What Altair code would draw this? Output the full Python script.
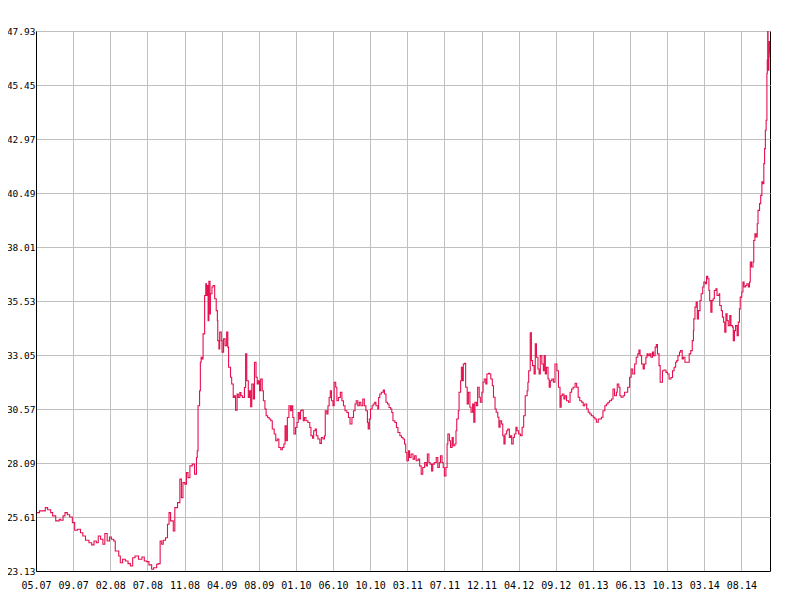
import altair as alt
import pandas as pd

# trading-day index (gridline every 96 trading days) and price
days = [2, 9, 17, 24, 30, 38, 43, 51, 60, 64, 70, 75, 81, 87, 94, 100, 107, 115, 121, 128,
        137, 144, 150, 156, 161, 167, 173, 178, 184, 190, 195, 201, 205, 214, 218, 224, 231, 238, 244, 250,
        256, 265, 274, 280, 286, 292, 299, 304, 312, 316, 321, 325, 329, 335, 340, 344, 348, 355, 359, 366,
        372, 376, 380, 385, 389, 393, 398, 404, 410,
        415, 417, 419, 423, 425, 427, 429, 432, 436, 439, 441, 443, 445, 447, 450, 451, 455, 458, 462, 466,
        469, 470, 473, 475, 479, 481, 485, 489, 493, 496, 498, 503, 506, 510, 513, 516, 520, 523, 527, 530,
        534, 539, 542, 545, 549, 552, 555, 558, 562, 565, 569, 572, 575, 578, 581, 585, 588, 592, 595, 599,
        603, 607, 611, 616, 620, 624, 628, 633, 637, 641, 644, 647, 650, 654, 658, 661, 664,
        667, 671, 675, 678, 681, 684, 687, 691, 694, 698, 703, 708, 711, 715, 718, 722, 725, 729, 734, 738,
        742, 746, 748, 752, 755, 758, 761, 764, 768, 771, 775, 778, 782, 787, 791, 795, 799, 804, 808, 812,
        817, 821, 825, 828, 832, 836, 840, 845, 849, 853, 857, 859, 862, 865, 869, 872, 876, 879, 884, 886,
        889, 893, 898, 901, 905, 909, 913, 917, 920, 923, 928, 932, 936, 941, 945, 949, 953, 956, 959, 963,
        966, 970, 975,
        979, 983, 988, 992, 996, 1000, 1005, 1009, 1012, 1016, 1019, 1023, 1026, 1030, 1035, 1039, 1043, 1046,
        1050, 1053, 1056, 1060, 1063, 1065, 1069, 1072, 1076, 1079, 1083, 1086, 1088, 1092, 1094, 1098, 1100,
        1103, 1105, 1108, 1111, 1115, 1118, 1122, 1125, 1129, 1132, 1135, 1139, 1142, 1146, 1149, 1153, 1156,
        1159, 1163, 1166, 1170, 1173, 1176, 1180, 1183, 1187, 1190, 1194, 1197, 1200, 1204, 1207, 1210, 1213,
        1217, 1220, 1224, 1227, 1230, 1234, 1237, 1241, 1244, 1248, 1253, 1257,
        1261, 1265, 1270, 1272, 1274, 1278, 1281, 1284, 1288, 1291, 1294, 1298, 1301, 1304, 1308, 1312, 1314,
        1317, 1320, 1324, 1327, 1330, 1334, 1338, 1342, 1347, 1351, 1355, 1358, 1361, 1365, 1368, 1372, 1377,
        1381, 1385, 1389, 1394, 1398, 1402, 1406, 1411, 1415, 1419, 1424, 1428, 1432, 1436, 1441, 1445, 1449,
        1454, 1458, 1462, 1466, 1471, 1475, 1479, 1483, 1488, 1492, 1496, 1501, 1503, 1507, 1510, 1513, 1518,
        1522, 1526, 1530, 1535, 1539, 1543, 1548, 1552, 1556, 1559, 1562, 1566, 1570, 1573, 1577, 1580, 1583,
        1587, 1590, 1594, 1597, 1601, 1604, 1607, 1611, 1614,
        1620, 1624, 1629, 1633, 1637, 1642, 1646, 1650, 1654, 1657, 1660, 1664, 1667, 1671, 1674, 1678, 1681,
        1684, 1689, 1693, 1697, 1700, 1701, 1704, 1707, 1710, 1713, 1717, 1720, 1724, 1727, 1731, 1734, 1737,
        1740, 1742, 1745, 1748, 1751, 1754, 1758, 1761, 1766, 1768, 1772, 1775, 1778, 1781, 1784, 1787, 1790,
        1794, 1797, 1801, 1803, 1806, 1809, 1813, 1816, 1819, 1821, 1825, 1828, 1831, 1835, 1838, 1842, 1845,
        1847, 1850, 1854, 1856, 1859, 1862, 1865, 1867, 1871, 1874, 1877, 1879, 1882, 1884, 1886, 1888, 1890,
        1891, 1892, 1893, 1895, 1896, 1897]

prices = [25.81, 25.89, 25.89, 26.04, 25.94, 25.81, 25.66, 25.43, 25.51, 25.46, 25.66, 25.81, 25.71, 25.61, 25.35, 25.00, 25.05, 24.89, 24.74, 24.54,
          24.43, 24.33, 24.51, 24.43, 24.74, 24.59, 24.36, 24.85, 24.51, 24.69, 24.59, 24.51, 24.05, 23.82, 23.51, 23.67, 23.59, 23.47, 23.36, 23.74,
          23.82, 23.67, 23.77, 23.59, 23.56, 23.41, 23.21, 23.28, 23.44, 23.47, 24.51, 24.36, 24.54, 24.66, 25.28, 25.81, 25.43, 24.97, 26.04, 26.27,
          27.35, 26.50, 27.19, 27.12, 27.65, 27.42, 27.96, 28.04, 27.58,
          28.34, 28.65, 30.72, 31.41, 32.72, 32.95, 32.87, 34.02, 35.78, 36.32, 35.78, 36.24, 34.63, 36.44, 34.94, 35.86, 36.17, 36.24, 35.63, 35.09,
          34.63, 33.71, 33.33, 34.10, 33.71, 33.18, 33.79, 33.48, 34.10, 33.41, 32.49, 32.03, 31.72, 31.10, 31.18, 30.52, 31.26, 31.10, 31.33, 31.18,
          31.10, 31.56, 33.10, 31.87, 31.10, 31.41, 30.68, 31.72, 31.03, 32.72, 32.03, 31.72, 31.87, 31.41, 31.95, 31.41, 30.95, 30.57, 30.26, 30.18,
          30.11, 30.03, 29.65, 29.42, 29.11, 29.19, 28.80, 28.70, 28.80, 28.96, 29.80, 29.11, 30.18, 30.72, 30.49, 30.72, 30.18,
          29.42, 29.72, 29.95, 30.41, 30.11, 30.49, 30.52, 30.03, 30.18, 30.03, 29.95, 29.72, 29.34, 29.23, 29.57, 29.65, 29.34, 29.19, 28.99, 29.26,
          29.19, 29.34, 30.49, 30.34, 30.72, 31.10, 31.41, 30.95, 30.72, 31.80, 31.57, 30.95, 31.10, 31.34, 30.95, 30.72, 30.49, 30.41, 30.18, 29.88,
          30.18, 30.49, 30.80, 30.95, 30.72, 30.88, 30.72, 31.03, 30.72, 30.49, 29.95, 29.65, 30.11, 30.57, 30.72, 30.80, 30.88, 30.72, 30.57, 31.10,
          31.26, 31.34, 31.44, 31.26, 30.88, 30.80, 30.64, 30.57, 30.41, 30.03, 29.95, 29.72, 29.49, 29.34, 29.26, 29.19, 28.96, 28.57, 28.19, 28.65,
          28.34, 28.50, 28.27,
          28.42, 28.19, 28.27, 27.96, 27.58, 27.88, 28.11, 27.96, 28.50, 28.11, 28.04, 27.73, 28.04, 28.11, 28.34, 27.88, 28.11, 28.42,
          28.11, 27.88, 27.50, 27.88, 28.96, 29.42, 29.11, 28.80, 29.26, 28.88, 28.96, 29.57, 30.11, 30.49, 31.34, 31.87, 32.49,
          31.87, 32.64, 32.67, 31.57, 30.80, 31.34, 30.65, 30.42, 30.80, 29.96, 30.88, 30.72, 31.57, 31.11, 30.88, 31.34, 31.80,
          31.95, 31.72, 32.18, 32.21, 32.18, 31.95, 31.64, 31.11, 30.57, 30.42, 30.19, 29.73, 30.03, 29.88, 29.34, 28.96, 29.42,
          29.57, 29.65, 29.26, 29.34, 28.96, 29.26, 29.42, 29.73, 29.57, 29.42, 29.34, 29.73,
          30.26, 31.18, 31.41, 31.80, 32.33, 34.07, 32.79, 32.56, 32.18, 33.56, 32.95, 32.41, 32.18, 33.02, 32.64, 32.33, 33.02,
          32.18, 32.49, 31.95, 31.57, 31.87, 31.95, 31.80, 32.64, 32.33, 31.57, 30.65, 31.18, 31.26, 31.03, 31.18, 30.95, 30.88,
          31.34, 31.49, 31.57, 31.75, 31.57, 31.11, 30.95, 30.88, 30.72, 30.80, 30.57, 30.42, 30.34, 30.26, 30.19, 30.11, 29.96,
          30.11, 30.11, 30.19, 30.49, 30.72, 30.80, 30.88, 30.95, 31.03, 31.49, 31.18, 31.34, 31.72, 31.57, 31.18, 31.11, 31.18,
          31.34, 31.34, 31.57, 32.03, 32.41, 32.18, 32.64, 32.95, 33.10, 33.28, 33.02, 32.64, 32.41, 32.64, 32.95, 33.10, 33.02,
          33.10, 32.95, 33.18, 33.02, 33.41, 33.53, 33.10, 32.56, 31.80,
          32.33, 32.36, 32.25, 32.18, 31.95, 32.02, 32.33, 32.49, 32.72, 32.79, 33.02, 33.18, 33.25, 32.87, 32.95, 32.72, 32.72,
          32.72, 33.10, 33.25, 33.71, 34.17, 34.71, 35.25, 35.48, 34.71, 35.09, 35.55, 35.86, 36.17, 36.40, 36.32, 36.66, 36.55,
          36.01, 35.55, 35.02, 35.55, 35.63, 36.01, 36.09, 35.78, 35.86, 35.32, 35.09, 34.79, 34.56, 34.10, 34.94, 34.63, 34.40,
          34.86, 34.40, 34.33, 33.71, 34.17, 34.40, 33.94, 34.56, 35.17, 35.71, 35.94, 36.40, 36.17, 36.24, 36.32, 36.17, 36.40,
          37.32, 37.09, 37.32, 38.31, 38.62, 38.47, 39.08, 39.69, 40.00, 40.38, 41.00, 40.92, 41.84, 42.53, 43.37, 43.83, 45.98,
          46.60, 47.90, 46.13, 46.75, 47.44, 46.90]

x_labels = ["05.07", "09.07", "02.08", "07.08", "11.08", "04.09", "08.09", "01.10", "06.10", "10.10",
            "03.11", "07.11", "12.11", "04.12", "09.12", "01.13", "06.13", "10.13", "03.14", "08.14"]
x_ticks = [i * 96 for i in range(len(x_labels))]
y_ticks = [23.13, 25.61, 28.09, 30.57, 33.05, 35.53, 38.01, 40.49, 42.97, 45.45, 47.93]

df = pd.DataFrame({"day": days, "price": prices})

label_array = "[" + ",".join("'" + s + "'" for s in x_labels) + "]"

FONT = "DejaVu Sans Mono"

chart = alt.Chart(df).mark_line(color="#E5104F", strokeWidth=1.1, interpolate="step-after").encode(
    x=alt.X("day:Q", scale=alt.Scale(domain=[0, 1898], nice=False, zero=False),
            axis=alt.Axis(values=x_ticks, labelExpr=label_array + "[round(datum.value/96)]",
                          title=None, grid=True, ticks=False, labelPadding=9,
                          labelFont=FONT, labelFontSize=10, labelColor="#000000",
                          gridColor="#C0C0C0", gridWidth=1, domainColor="#000000",
                          labelOverlap=False, labelFlush=False)),
    y=alt.Y("price:Q", scale=alt.Scale(domain=[23.13, 47.93], nice=False, zero=False),
            axis=alt.Axis(values=y_ticks, format=".2f", title=None, grid=True, ticks=False,
                          labelPadding=1, labelFont=FONT, labelFontSize=9.5,
                          labelColor="#000000", gridColor="#C0C0C0", gridWidth=1,
                          domainColor="#000000", labelOverlap=False, labelFlush=False)),
).properties(
    width=734, height=540,
    autosize=alt.AutoSizeParams(type="none"),
    padding={"left": 28, "top": 23, "right": 20, "bottom": 30},
).configure_view(stroke="#000000", strokeWidth=1)

chart.save("out.html", embed_options={"renderer": "svg", "actions": False})
